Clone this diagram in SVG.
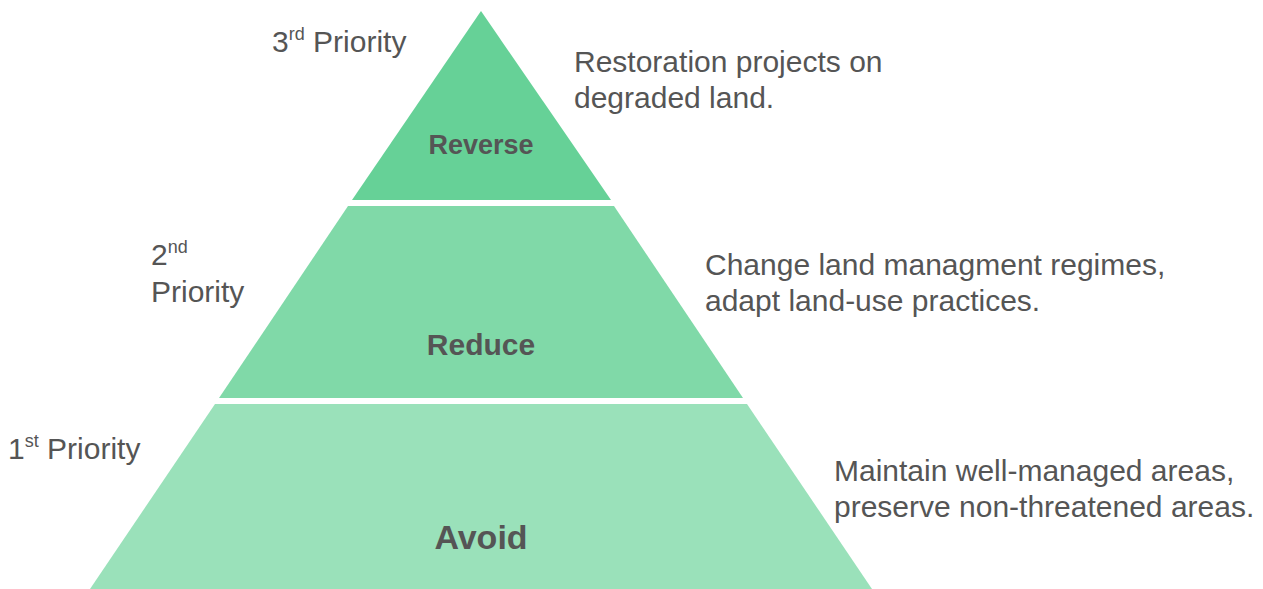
<svg xmlns="http://www.w3.org/2000/svg" width="1263" height="589" viewBox="0 0 1263 589">
  <style>
    .txt { font-family: "Liberation Sans", Arial, sans-serif; fill: #555555; }
    .side { font-size: 30px; }
    .tier { font-weight: bold; text-anchor: middle; }
    .sup { font-size: 18px; }
  </style>
  <rect width="1263" height="589" fill="#ffffff"/>

  <g id="tier-reverse">
    <polygon points="481,11 611,200 352,200" fill="#66D197"/>
    <text class="txt tier" x="481" y="154" font-size="27">Reverse</text>
  </g>

  <g id="tier-reduce">
    <polygon points="348,206 614,206 743,398 219,398" fill="#80D9A8"/>
    <text class="txt tier" x="481" y="355" font-size="30">Reduce</text>
  </g>

  <g id="tier-avoid">
    <polygon points="215,404 747,404 872,589 90,589" fill="#9AE1BA"/>
    <text class="txt tier" x="481" y="549" font-size="34">Avoid</text>
  </g>

  <g id="priority-labels">
    <text class="txt side" x="272" y="52">3<tspan class="sup" dy="-12">rd</tspan><tspan dy="12"> Priority</tspan></text>
    <text class="txt side" x="151" y="265">2<tspan class="sup" dy="-12">nd</tspan></text>
    <text class="txt side" x="151" y="302">Priority</text>
    <text class="txt side" x="8" y="459">1<tspan class="sup" dy="-12">st</tspan><tspan dy="12"> Priority</tspan></text>
  </g>

  <g id="descriptions">
    <text class="txt side" x="574" y="72">Restoration projects on</text>
    <text class="txt side" x="574" y="108">degraded land.</text>
    <text class="txt side" x="705" y="275">Change land managment regimes,</text>
    <text class="txt side" x="705" y="311">adapt land-use practices.</text>
    <text class="txt side" x="834" y="481">Maintain well-managed areas,</text>
    <text class="txt side" x="834" y="517">preserve non-threatened areas.</text>
  </g>
</svg>
